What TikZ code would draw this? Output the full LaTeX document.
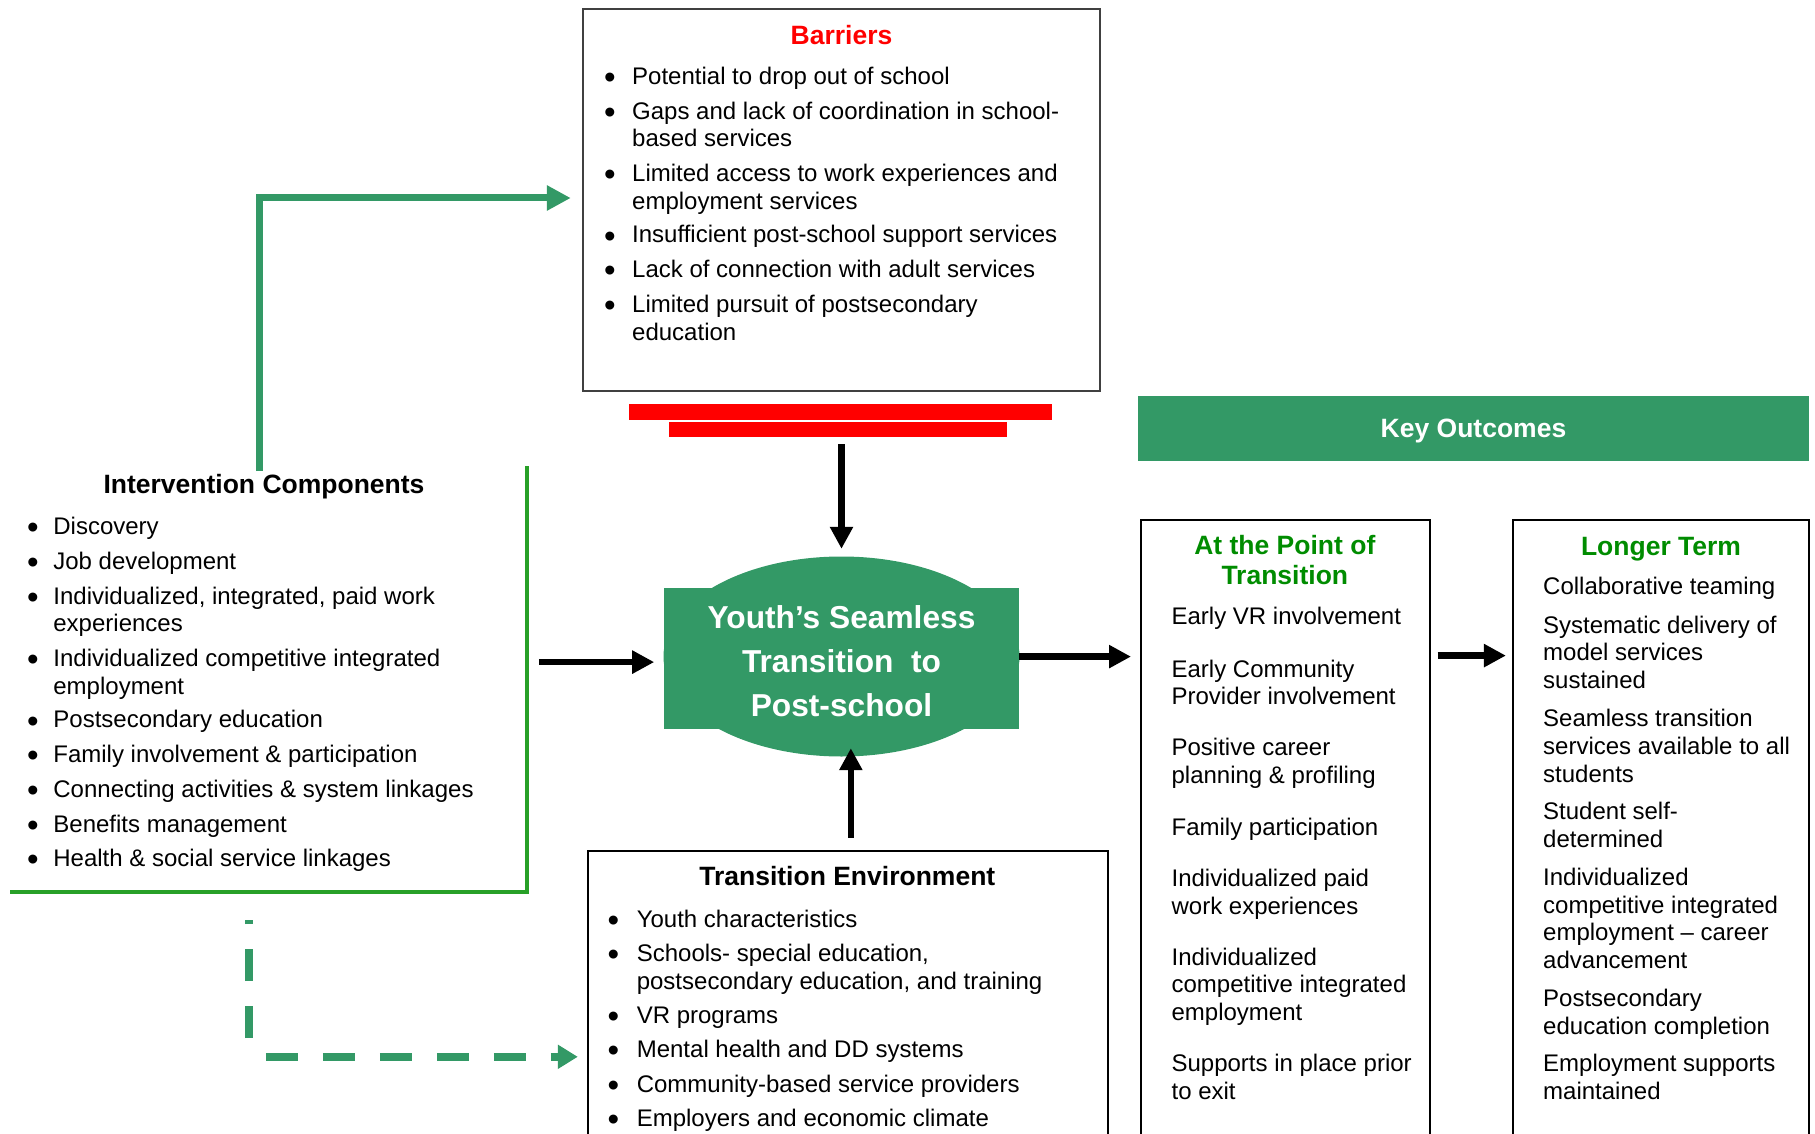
\documentclass[tikz,border=0pt]{standalone}
\usepackage{fontspec}
\setmainfont{Liberation Sans}
\usetikzlibrary{arrows.meta,calc,shapes.geometric}
\definecolor{kgreen}{RGB}{51,153,102}
\definecolor{tgreen}{RGB}{0,140,0}
\definecolor{bgreen}{RGB}{40,160,40}
\definecolor{bgray}{RGB}{64,64,64}
\newcommand\bodyfs{\fontsize{24}{27.7}\selectfont}
\newcommand\bulfs{\fontsize{33}{33}\selectfont}
\newcommand\titlefs{\fontsize{26.5}{30}\selectfont\bfseries}
\newcommand\bitem[5]{\node[bul] (#1b) at (#2,#4-2) {\textbullet};\node[itm] (#1) at (#3,#4-17.9) {\strut#5};}
\newcommand\pitem[4]{\node[itm] (#1) at (#2,#3-17.9) {\strut#4};}
\begin{document}
\begin{tikzpicture}[x=1pt,y=-1pt,
  bul/.style={anchor=center,inner sep=0,font=\bulfs},
  itm/.style={anchor=north west,align=left,inner sep=0,font=\bodyfs},
  box/.style={draw=black,line width=2pt,inner sep=0},
  ttl/.style={inner sep=0,font=\titlefs,anchor=base},
  blk/.style={line width=6.5pt,-{Triangle[length=22pt,width=22pt]}},
  garrow/.style={draw=kgreen,line width=7pt,-{Triangle[length=24pt,width=24pt]}},
  gdash/.style={draw=kgreen,line width=8pt,dash pattern=on 32pt off 25pt},
  icline/.style={draw=bgreen,line width=4pt}]
\useasboundingbox (0,0) rectangle (1815,1134);
\clip (0,0) rectangle (1815,1134);

% Barriers
\node[box,draw=bgray,line width=2.5pt,minimum width=517pt,minimum height=382pt] (barriers) at (841.5,200) {};
\node[ttl,text=red] (bartitle) at (841.5,44.2) {Barriers};
\bitem{ba1}{610}{632}{82.7}{Potential to drop out of school}
\bitem{ba2}{610}{632}{117.5}{Gaps and lack of coordination in school-\\based services}
\bitem{ba3}{610}{632}{180}{Limited access to work experiences and\\employment services}
\bitem{ba4}{610}{632}{241.3}{Insufficient post-school support services}
\bitem{ba5}{610}{632}{276}{Lack of connection with adult services}
\bitem{ba6}{610}{632}{310.8}{Limited pursuit of postsecondary\\education}

% red bars
\node[fill=red,minimum width=423pt,minimum height=16pt,inner sep=0] (rbar1) at (840.5,412) {};
\node[fill=red,minimum width=338pt,minimum height=15pt,inner sep=0] (rbar2) at (838,429.5) {};

% Key outcomes
\node[fill=kgreen,minimum width=671pt,minimum height=65pt,inner sep=0,text=white,font=\titlefs,text depth=0pt] (ko) at (1473.5,428) {Key Outcomes};

% central shape
\node[ellipse,fill=kgreen,minimum width=356pt,minimum height=200pt,inner sep=0] (youthE) at (841.5,656.5) {};
\node[fill=kgreen,minimum width=354.2pt,minimum height=141.2pt,inner sep=0] (youth) at (841.5,658.6) {};
\node[font=\fontsize{31.7}{44}\selectfont\bfseries,text=white,align=center,inner sep=0,anchor=north] (ytxt) at (841.5,597.5) {\strut Youth’s Seamless\\Transition~ to\\Post-school};

% Intervention components
\node[inner sep=0,minimum width=516.3pt,minimum height=424.8pt] (ic) at (268.55,678.9) {};
\draw[icline] (ic.north east) -- (ic.south east) -- (ic.south west);
\node[ttl] (ictitle) at (264,493.5) {Intervention Components};
\bitem{ic1}{33}{53.2}{533}{Discovery}
\bitem{ic2}{33}{53.2}{567.7}{Job development}
\bitem{ic3}{33}{53.2}{602.5}{Individualized, integrated, paid work\\experiences}
\bitem{ic4}{33}{53.2}{665}{Individualized competitive integrated\\employment}
\bitem{ic5}{33}{53.2}{726.3}{Postsecondary education}
\bitem{ic6}{33}{53.2}{761}{Family involvement \& participation}
\bitem{ic7}{33}{53.2}{795.8}{Connecting activities \& system linkages}
\bitem{ic8}{33}{53.2}{830.5}{Benefits management}
\bitem{ic9}{33}{53.2}{865.2}{Health \& social service linkages}

% Transition environment
\node[box,minimum width=519.7pt,minimum height=299.2pt] (te) at (847.85,1000.4) {};
\node[ttl] (tetitle) at (847.3,885.7) {Transition Environment};
\bitem{te1}{613.5}{636.6}{925.4}{Youth characteristics}
\bitem{te2}{613.5}{636.6}{960.1}{Schools- special education,\\postsecondary education, and training}
\bitem{te3}{613.5}{636.6}{1021.5}{VR programs}
\bitem{te4}{613.5}{636.6}{1056.2}{Mental health and DD systems}
\bitem{te5}{613.5}{636.6}{1090.9}{Community-based service providers}
\bitem{te6}{613.5}{636.6}{1124.5}{Employers and economic climate}

% At the point of transition
\node[box,minimum width=288.5pt,minimum height=630.3pt] (pot) at (1285.25,834.85) {};
\node[ttl,text=tgreen,align=center,anchor=north] (pottitle) at (1284.8,533.7) {\strut At the Point of\\Transition};
\pitem{p1}{1171.4}{623.3}{Early VR involvement}
\pitem{p2}{1171.4}{675.4}{Early Community\\Provider involvement}
\pitem{p3}{1171.4}{754.1}{Positive career\\planning \& profiling}
\pitem{p4}{1171.4}{834}{Family participation}
\pitem{p5}{1171.4}{884.9}{Individualized paid\\work experiences}
\pitem{p6}{1171.4}{963.6}{Individualized\\competitive integrated\\employment}
\pitem{p7}{1171.4}{1070.1}{Supports in place prior\\to exit}

% Longer term
\node[box,minimum width=296.1pt,minimum height=630.3pt] (lt) at (1660.95,834.85) {};
\node[ttl,text=tgreen] (lttitle) at (1661,555.8) {Longer Term};
\pitem{l1}{1543}{593.2}{Collaborative teaming}
\pitem{l2}{1543}{631.4}{Systematic delivery of\\model services\\sustained}
\pitem{l3}{1543}{725.2}{Seamless transition\\services available to all\\students}
\pitem{l4}{1543}{817.8}{Student self-\\determined}
\pitem{l5}{1543}{883.7}{Individualized\\competitive integrated\\employment – career\\advancement}
\pitem{l6}{1543}{1005.3}{Postsecondary\\education completion}
\pitem{l7}{1543}{1070.1}{Employment supports\\maintained}

% black connectors
\draw[blk,shorten <=7pt,shorten >=7.5pt] (rbar2.south -| youthE.north) -- (youthE.north);
\draw[blk,shorten <=12pt,shorten >=10pt] ([yshift=-3.5pt]ic.east |- youth.west) -- ([yshift=-3.5pt]youth.west);
\draw[blk,shorten >=9pt] ([yshift=2pt]youth.east) -- ([yshift=2pt]youth.east -| pot.west);
\draw[blk,shorten <=7pt,shorten >=6pt] ([yshift=3pt]pot.east |- youth.east) -- ([yshift=3pt]lt.west |- youth.east);
\draw[blk,shorten <=12pt,shorten >=-8.5pt] ([xshift=3pt]te.north) -- ([xshift=3pt]te.north |- youthE.south);

% green connectors
\coordinate (gcorner) at (259.3,198);
\draw[garrow,shorten <=3pt,shorten >=11pt] (ictitle.north -| gcorner) -- (gcorner) -- (gcorner -| barriers.west);
\coordinate (dcorner) at (248.9,1056.8);
\draw[gdash,shorten <=18.8pt,shorten >=28.7pt] (dcorner) -- (ic.south -| dcorner);
\draw[gdash,-{Triangle[length=20pt,width=23pt]},shorten <=17pt,shorten >=9.2pt] (dcorner) -- (dcorner -| te.west);
\end{tikzpicture}
\end{document}
